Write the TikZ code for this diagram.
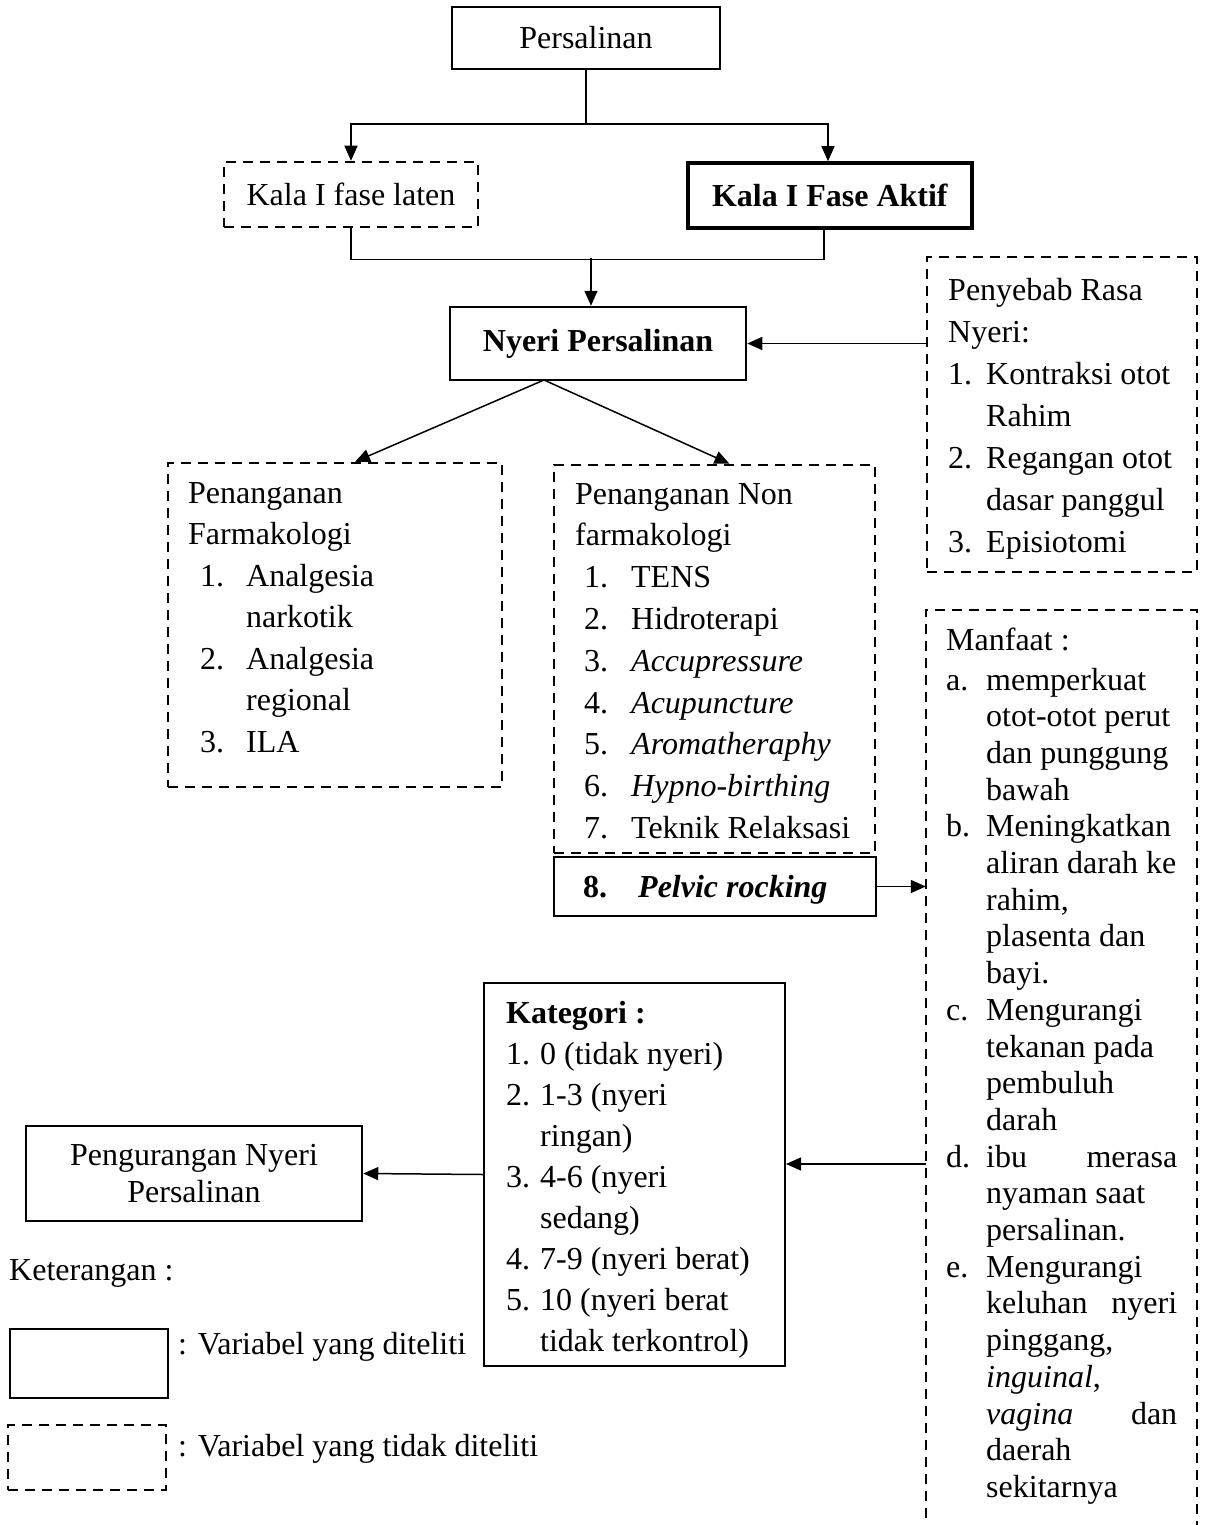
\documentclass[tikz,border=0pt]{standalone}
\usepackage{fontspec}
\setmainfont{Liberation Serif}
\usetikzlibrary{arrows.meta}
\begin{document}
\begin{tikzpicture}[x=1pt,y=-1pt,
  every node/.style={font=\fontsize{32}{42}\selectfont, inner sep=0pt},
  sbox/.style={draw, line width=2pt, inner sep=0pt},
  dbox/.style={draw, line width=2.5pt, dash pattern=on 10pt off 7pt},
  conn/.style={line width=1.5pt},
  arr/.style={conn, -{Triangle[length=15pt,width=13pt]}},
  txt/.style={anchor=base west, inner sep=0pt}
]
\useasboundingbox (0,0) rectangle (1207,1525);

% top boxes
\node[sbox, minimum width=268pt, minimum height=62pt] (persal) at (586,38) {Persalinan};
\node[dbox, minimum width=254pt, minimum height=65pt] (laten) at (351,194.5) {Kala I fase laten};
\node[sbox, line width=3.5pt, minimum width=284pt, minimum height=65pt] (aktif) at (830,195.5) {\textbf{Kala I Fase Aktif}};
\node[sbox, line width=2.5pt, minimum width=296pt, minimum height=73pt] (nyeri) at (598,343.5) {\textbf{Nyeri Persalinan}};

% Penyebab
\node[dbox, minimum width=270pt, minimum height=315pt] (peny) at (1062,414.5) {};
\node[txt] (penyT) at (948,300) {\begin{tabular}[t]{@{}l@{}}Penyebab Rasa\\ Nyeri:\\ \makebox[38pt][l]{1.}Kontraksi otot\\ \hspace*{38pt}Rahim\\ \makebox[38pt][l]{2.}Regangan otot\\ \hspace*{38pt}dasar panggul\\ \makebox[38pt][l]{3.}Episiotomi\end{tabular}};

% Farmakologi
\node[dbox, minimum width=334pt, minimum height=324pt] (farm) at (335,625) {};
\node[txt, font=\fontsize{32}{41.5}\selectfont] (farmT) at (188,503) {\begin{tabular}[t]{@{}l@{}}Penanganan\\ Farmakologi\\ \hspace*{12pt}\makebox[46pt][l]{1.}Analgesia\\ \hspace*{58pt}narkotik\\ \hspace*{12pt}\makebox[46pt][l]{2.}Analgesia\\ \hspace*{58pt}regional\\ \hspace*{12pt}\makebox[46pt][l]{3.}ILA\end{tabular}};

% Non farmakologi
\node[dbox, minimum width=321pt, minimum height=388pt] (nonfarm) at (714.5,659) {};
\node[txt, font=\fontsize{32}{41.8}\selectfont] (nonfarmT) at (575,504) {\begin{tabular}[t]{@{}l@{}}Penanganan Non\\ farmakologi\\ \hspace*{9pt}\makebox[47pt][l]{1.}TENS\\ \hspace*{9pt}\makebox[47pt][l]{2.}Hidroterapi\\ \hspace*{9pt}\makebox[47pt][l]{3.}\textit{Accupressure}\\ \hspace*{9pt}\makebox[47pt][l]{4.}\textit{Acupuncture}\\ \hspace*{9pt}\makebox[47pt][l]{5.}\textit{Aromatheraphy}\\ \hspace*{9pt}\makebox[47pt][l]{6.}\textit{Hypno-birthing}\\ \hspace*{9pt}\makebox[47pt][l]{7.}Teknik Relaksasi\end{tabular}};

% Pelvic rocking
\node[sbox, minimum width=322pt, minimum height=59pt] (pelvic) at (715,886.5) {};
\node[txt] (pelT) at (583,897) {\textbf{\makebox[55pt][l]{8.}\textit{Pelvic rocking}}};

% Manfaat
\node[minimum width=271pt, minimum height=925pt] (manf) at (1061.5,1072.5) {};
\draw[dbox] (manf.south west) -- (manf.north west) -- (manf.north east) -- (manf.south east);
\node[txt] (manfH) at (946,650) {Manfaat :};
\node[txt, font=\fontsize{32}{36.7}\selectfont] (manfT) at (946,690) {\begin{tabular}[t]{@{}l@{}}\makebox[40pt][l]{a.}memperkuat\\
\hspace*{40pt}otot-otot perut\\
\hspace*{40pt}dan punggung\\
\hspace*{40pt}bawah\\
\makebox[40pt][l]{b.}Meningkatkan\\
\hspace*{40pt}aliran darah ke\\
\hspace*{40pt}rahim,\\
\hspace*{40pt}plasenta dan\\
\hspace*{40pt}bayi.\\
\makebox[40pt][l]{c.}Mengurangi\\
\hspace*{40pt}tekanan pada\\
\hspace*{40pt}pembuluh\\
\hspace*{40pt}darah\\
\makebox[40pt][l]{d.}\hbox to 191pt{ibu\hfill merasa}\\
\hspace*{40pt}nyaman saat\\
\hspace*{40pt}persalinan.\\
\makebox[40pt][l]{e.}Mengurangi\\
\hspace*{40pt}\hbox to 191pt{keluhan\hfill nyeri}\\
\hspace*{40pt}pinggang,\\
\hspace*{40pt}\textit{inguinal},\\
\hspace*{40pt}\hbox to 191pt{\textit{vagina}\hfill dan}\\
\hspace*{40pt}daerah\\
\hspace*{40pt}sekitarnya\end{tabular}};

% Kategori
\node[sbox, minimum width=301pt, minimum height=383pt] (kat) at (634.5,1174.5) {};
\node[txt, font=\fontsize{32}{41}\selectfont] (katT) at (506,1023) {\begin{tabular}[t]{@{}l@{}}\textbf{Kategori :}\\ \makebox[34pt][l]{1.}0 (tidak nyeri)\\ \makebox[34pt][l]{2.}1-3 (nyeri\\ \hspace*{34pt}ringan)\\ \makebox[34pt][l]{3.}4-6 (nyeri\\ \hspace*{34pt}sedang)\\ \makebox[34pt][l]{4.}7-9 (nyeri berat)\\ \makebox[34pt][l]{5.}10 (nyeri berat\\ \hspace*{34pt}tidak terkontrol)\end{tabular}};

% Pengurangan
\node[sbox, line width=2.5pt, minimum width=336pt, minimum height=95pt, align=center, font=\fontsize{32}{36.8}\selectfont] (peng) at (194,1173.5) {Pengurangan Nyeri\\Persalinan};

% Legend
\node[txt] (ketT) at (9,1280) {Keterangan :};
\node[sbox, minimum width=158pt, minimum height=69pt] (leg1) at (89,1363.5) {};
\node[txt] (leg1T) at (178,1354) {: Variabel yang diteliti};
\node[dbox, minimum width=158pt, minimum height=65pt] (leg2) at (87,1457.5) {};
\node[txt] (leg2T) at (178,1456) {: Variabel yang tidak diteliti};

% connectors
\draw[arr] (persal.south) -- ++(0,54) -| (laten.north);
\draw[arr] (persal.south) -- ++(0,54) -| ([xshift=-2pt]aktif.north);
\draw[conn] (laten.south) -- ++(0,31) -| ([xshift=-6pt]aktif.south);
\coordinate (j2) at (591,258);
\draw[arr] (j2) -- (j2 |- nyeri.north);
\draw[arr] (peny.west |- nyeri.east) -- (nyeri.east);
\coordinate (apex) at (544,380);
\draw[arr] (apex) -- ([xshift=20pt]farm.north);
\draw[arr] (apex) -- ([xshift=15pt]nonfarm.north);
\draw[arr] (pelvic.east) -- (manf.west |- pelvic.east);
\coordinate (m1) at (926,1164);
\draw[arr] (m1) -- (m1 -| kat.east);
\draw[arr] (kat.west) -- (peng.east);
\end{tikzpicture}
\end{document}
